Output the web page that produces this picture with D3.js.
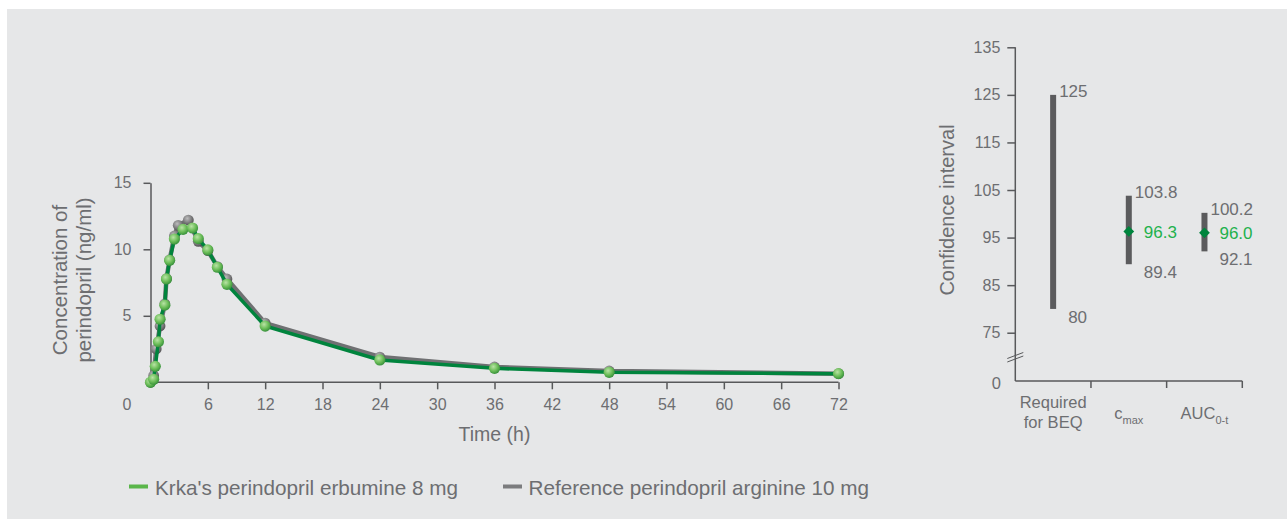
<!DOCTYPE html>
<html><head><meta charset="utf-8">
<script src="https://cdn.jsdelivr.net/npm/d3@7"></script>
<style>
body{margin:0;background:#fff;}
svg{display:block;font-family:"Liberation Sans",Arial,sans-serif;}
</style>
</head><body>
<svg id="c" width="1287" height="519"></svg>
<script>
// ---- data ----
const krkaTimes = [0, 0.33, 0.5, 0.83, 1, 1.5, 1.67, 2, 2.5, 3.4, 4.4, 5, 6, 7, 8, 12, 24, 36, 48, 72];
const krkaConc  = [0, 0.23, 1.2, 3.05, 4.74, 5.8, 7.77, 9.17, 10.77, 11.5, 11.6, 10.8, 9.95, 8.65, 7.37, 4.23, 1.68, 1.05, 0.75, 0.65];
const refTimes  = [0, 0.33, 0.6, 1.0, 1.5, 1.67, 2, 2.5, 2.9, 3.96, 5, 6, 7, 8, 12, 24, 36, 48, 72];
const refConc   = [0, 0.5, 2.5, 4.23, 5.9, 7.8, 9.2, 11.0, 11.8, 12.2, 10.6, 9.9, 8.7, 7.77, 4.45, 1.9, 1.15, 0.85, 0.65];
const timeTicks = [6, 12, 18, 24, 30, 36, 42, 48, 54, 60, 66, 72];
const concTicks = [5, 10, 15];
const seriesNames = ["Krka's perindopril erbumine 8 mg", "Reference perindopril arginine 10 mg"];

const ciCategories = ["beq", "cmax", "auc"];
const ciLow   = [80, 89.4, 92.1];
const ciHigh  = [125, 103.8, 100.2];
const ciPoint = [null, 96.3, 96.0];
const ciTicks = [75, 85, 95, 105, 115, 125, 135];

// ---- style ----
const textCol = "#6d6e71", axisCol = "#58595b";
const green = "#00843d", greyLine = "#6f7072";

const svg = d3.select("#c");
svg.append("rect").attr("x", 7).attr("y", 9).attr("width", 1280).attr("height", 510).attr("fill", "#e6e7e8");

const defs = svg.append("defs");
function sphere(id, c0, c1, c2) {
  const g = defs.append("radialGradient").attr("id", id).attr("cx", "40%").attr("cy", "35%").attr("r", "70%");
  g.append("stop").attr("offset", "0%").attr("stop-color", c0);
  g.append("stop").attr("offset", "55%").attr("stop-color", c1);
  g.append("stop").attr("offset", "100%").attr("stop-color", c2);
}
sphere("gG", "#b9e3a5", "#6bbd58", "#2f8a36");
sphere("gR", "#bdbdbd", "#7f7f80", "#4a4a4b");

// ---- left chart ----
const x = d3.scaleLinear().domain([0, 72]).range([150.5, 838.5]);
const y = d3.scaleLinear().domain([0, 15]).range([382.3, 182.8]);

function styleAxis(g) {
  g.selectAll("path.domain").attr("stroke", axisCol).attr("stroke-width", 1.5);
  g.selectAll(".tick line").attr("stroke", axisCol).attr("stroke-width", 1.5);
  g.selectAll(".tick text").attr("fill", textCol).attr("font-size", 16);
}

const gx = svg.append("g").attr("transform", `translate(0,${y(0)})`)
  .call(d3.axisBottom(x).tickValues(timeTicks).tickSize(7).tickSizeOuter(0).tickPadding(9));
styleAxis(gx);
gx.select("path.domain").attr("d", `M${x(0)},0H${x(72)}`);
svg.append("text").attr("x", 127).attr("y", 410).attr("text-anchor", "middle")
  .attr("fill", textCol).attr("font-size", 16).text("0");

const gy = svg.append("g").attr("transform", `translate(${x(0)},0)`)
  .call(d3.axisLeft(y).tickValues(concTicks).tickSize(7).tickSizeOuter(0).tickPadding(12));
styleAxis(gy);

svg.append("text").attr("x", x(36)).attr("y", 441).attr("text-anchor", "middle")
  .attr("fill", textCol).attr("font-size", 19.5).text("Time (h)");

const yl = svg.append("text").attr("transform", "translate(67,280) rotate(-90)")
  .attr("text-anchor", "middle").attr("fill", textCol).attr("font-size", 20.5);
yl.append("tspan").attr("x", 0).attr("dy", 0).text("Concentration of");
yl.append("tspan").attr("x", 0).attr("dy", 24).text("perindopril (ng/ml)");

const line = d3.line().x(d => x(d[0])).y(d => y(d[1]));
const refData = refTimes.map((t, i) => [t, refConc[i]]);
const krkaData = krkaTimes.map((t, i) => [t, krkaConc[i]]);

svg.append("path").datum(refData).attr("d", line).attr("fill", "none")
  .attr("stroke", greyLine).attr("stroke-width", 4.5).attr("stroke-linejoin", "round");
svg.append("g").selectAll("circle").data(refData).join("circle")
  .attr("cx", d => x(d[0])).attr("cy", d => y(d[1])).attr("r", 5.4).attr("fill", "url(#gR)");
svg.append("path").datum(krkaData).attr("d", line).attr("fill", "none")
  .attr("stroke", green).attr("stroke-width", 3.5).attr("stroke-linejoin", "round");
svg.append("g").selectAll("circle").data(krkaData).join("circle")
  .attr("cx", d => x(d[0])).attr("cy", d => y(d[1])).attr("r", 5.6).attr("fill", "url(#gG)");

// legend
const leg = [{c: "#5ab64a", x: 129, tx: 155}, {c: "#7b7c7e", x: 503, tx: 528.5}];
leg.forEach((l, i) => {
  svg.append("rect").attr("x", l.x).attr("y", 484.5).attr("width", 19).attr("height", 4).attr("fill", l.c);
  svg.append("text").attr("x", l.tx).attr("y", 494.5).attr("fill", textCol).attr("font-size", 20.7).text(seriesNames[i]);
});

// ---- right chart ----
const ax0 = 1015.3, ay0 = 381;
const cy = d3.scaleLinear().domain([70, 135]).range([356.5, 47.3]);
const cx = d3.scaleBand().domain(ciCategories).range([ax0, 1242.3]);

const gcy = svg.append("g").attr("transform", `translate(${ax0},0)`)
  .call(d3.axisLeft(cy).tickValues(ciTicks).tickSize(8).tickSizeOuter(0).tickPadding(7));
styleAxis(gcy);
gcy.select("path.domain").attr("d", `M0,${ay0}V${cy(135)}`);
svg.append("text").attr("x", 1001).attr("y", ay0 + 3).attr("dy", "0.32em").attr("text-anchor", "end")
  .attr("fill", textCol).attr("font-size", 16.5).text("0");
// axis break
[0, 3.5].forEach(o => {
  svg.append("line").attr("x1", ax0 - 8).attr("y1", 362 - o).attr("x2", ax0 + 8).attr("y2", 356 - o)
    .attr("stroke", axisCol).attr("stroke-width", 1);
});

const gcx = svg.append("g").attr("transform", `translate(0,${ay0})`);
gcx.append("path").attr("d", `M${ax0},0H${cx.range()[1]}`).attr("stroke", axisCol).attr("stroke-width", 1.5);
gcx.selectAll("line").data(ciCategories).join("line")
  .attr("x1", d => cx(d) + cx.bandwidth()).attr("x2", d => cx(d) + cx.bandwidth())
  .attr("y1", 0).attr("y2", 7).attr("stroke", axisCol).attr("stroke-width", 1.5);

svg.append("text").attr("transform", "translate(954,210) rotate(-90)")
  .attr("text-anchor", "middle").attr("fill", textCol).attr("font-size", 20).text("Confidence interval");

const mid = d => cx(d) + cx.bandwidth() / 2;
// category labels
const c0 = svg.append("text").attr("x", mid("beq")).attr("y", 408).attr("text-anchor", "middle")
  .attr("fill", textCol).attr("font-size", 16.5);
c0.append("tspan").attr("x", mid("beq")).text("Required");
c0.append("tspan").attr("x", mid("beq")).attr("dy", 20).text("for BEQ");
const c1 = svg.append("text").attr("x", mid("cmax")).attr("y", 419).attr("text-anchor", "middle")
  .attr("fill", textCol).attr("font-size", 16.5);
c1.append("tspan").text("c");
c1.append("tspan").attr("dy", 5).attr("font-size", 11).text("max");
const c2 = svg.append("text").attr("x", mid("auc")).attr("y", 419).attr("text-anchor", "middle")
  .attr("fill", textCol).attr("font-size", 16.5);
c2.append("tspan").text("AUC");
c2.append("tspan").attr("dy", 5).attr("font-size", 11).text("0-t");

ciCategories.forEach((c, i) => {
  const bx = mid(c);
  svg.append("rect").attr("x", bx - 3).attr("width", 6)
    .attr("y", cy(ciHigh[i])).attr("height", cy(ciLow[i]) - cy(ciHigh[i])).attr("fill", "#5b5b5d");
  svg.append("text").attr("x", bx + 6).attr("y", cy(ciHigh[i]) + 2).attr("fill", textCol)
    .attr("font-size", 17).text(String(ciHigh[i]));
  svg.append("text").attr("x", bx + 15).attr("y", cy(ciLow[i]) + 14).attr("fill", textCol)
    .attr("font-size", 17).text(String(ciLow[i]));
  if (ciPoint[i] != null) {
    svg.append("path").attr("d", d3.symbol(d3.symbolSquare, 58)())
      .attr("transform", `translate(${bx},${cy(ciPoint[i])}) rotate(45)`).attr("fill", green);
    svg.append("text").attr("x", bx + 15).attr("y", cy(ciPoint[i]) + 6.5).attr("fill", "#22b14c")
      .attr("font-size", 17).text(ciPoint[i].toFixed(1));
  }
});
</script>
</body></html>
